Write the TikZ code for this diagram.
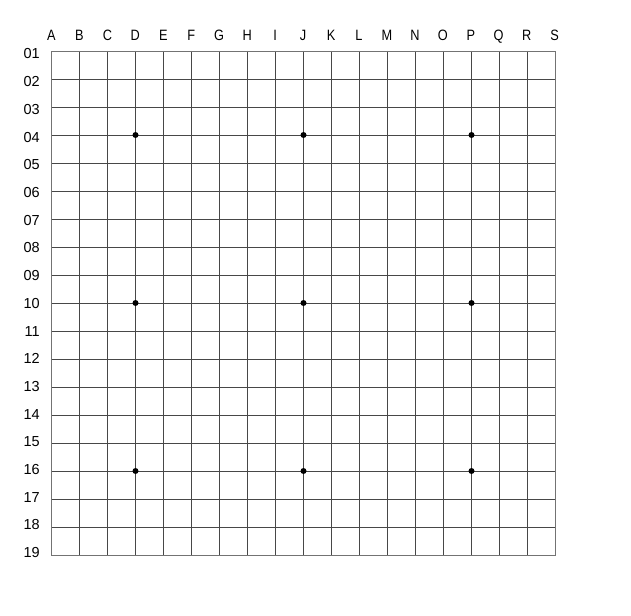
\documentclass[tikz,border=0pt]{standalone}
\usepackage{fontspec}
\setmainfont{Liberation Sans}
\newfontfamily\letterfont[FakeStretch=0.85]{Liberation Sans}
\tikzset{
  gridline/.style={draw=black!72, line width=0.9pt},
  boardedge/.style={draw=black!55, line width=0.9pt},
  hoshi/.style={circle, fill=black, inner sep=0pt, minimum size=6pt},
  coordlabel/.style={font=\fontsize{14.5}{14.5}\selectfont, inner sep=0pt},
  letterlabel/.style={font=\letterfont\fontsize{15}{15}\selectfont, inner sep=0pt}
}
\begin{document}
\begin{tikzpicture}[x=1pt, y=-1pt]
        \useasboundingbox (0,0) rectangle (631,615);
        % Corners of the board
        \coordinate (nw) at (51.5, 51);
        \coordinate (se) at (555.5, 555);

        % Grid
        \foreach \i in {1,...,17} {
            \draw[gridline] (51.5+28*\i, 51) -- (51.5+28*\i, 555);
            \draw[gridline] (51.5, 51+28*\i) -- (555.5, 51+28*\i);
        }
        \draw[boardedge] (nw) rectangle (se);

        % Star points
        \foreach \c in {3,9,15} {
            \foreach \r in {3,9,15} {
                \node[hoshi] (star\c\r) at (51.5+28*\c, 51+28*\r) {};
            }
        }

        % Column letters
        \foreach \l [count=\i from 0] in {A,B,C,D,E,F,G,H,I,J,K,L,M,N,O,P,Q,R,S} {
            \node[letterlabel, anchor=base] (col\l) at (51.5+27.95*\i, 40.5) {\l};
        }

        % Row numbers
        \foreach \n [count=\i from 0] in {01,02,03,04,05,06,07,08,09,10,11,12,13,14,15,16,17,18,19} {
            \node[coordlabel, anchor=base east] (row\n) at (40, 59+27.7*\i) {\n};
        }
    \end{tikzpicture}
\end{document}
